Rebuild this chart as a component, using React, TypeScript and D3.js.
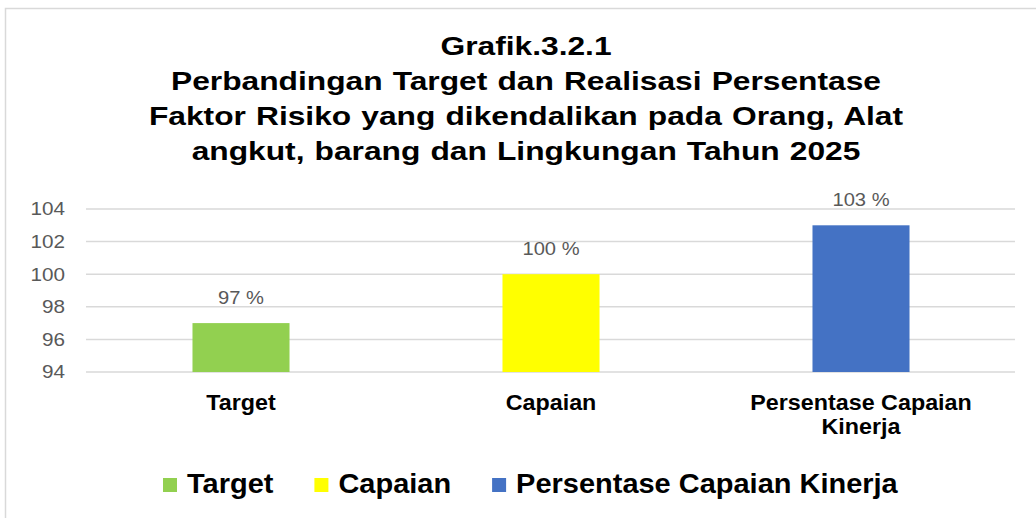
import React, { useEffect, useRef } from 'react'
import * as d3 from 'd3'

const categories = ['Target', 'Capaian', 'Persentase Capaian Kinerja']
const values = [97, 100, 103]
const colors = ['#92D050', '#FFFF00', '#4472C4']
const yTicks = [94, 96, 98, 100, 102, 104]
const titleLines = [
  'Grafik.3.2.1',
  'Perbandingan Target dan Realisasi Persentase',
  'Faktor Risiko yang dikendalikan pada Orang, Alat',
  'angkut, barang dan Lingkungan Tahun 2025',
]
// category axis labels, wrapped like the original
const categoryLines = [['Target'], ['Capaian'], ['Persentase Capaian', 'Kinerja']]

const W = 1036
const H = 518
const FONT = "'Liberation Sans', Arial, sans-serif"

export default function App() {
  const ref = useRef<SVGSVGElement | null>(null)

  useEffect(() => {
    const svg = d3.select(ref.current)
    svg.selectAll('*').remove()

    // chart area frame
    svg
      .append('rect')
      .attr('x', 5.5)
      .attr('y', 8.5)
      .attr('width', 1100)
      .attr('height', 600)
      .attr('fill', '#fff')
      .attr('stroke', '#d9d9d9')
      .attr('stroke-width', 1.5)

    // title (the original is a bit stretched horizontally)
    const title = svg
      .append('g')
      .attr('font-family', FONT)
      .attr('font-weight', 'bold')
      .attr('font-size', 25)
      .attr('fill', '#000')
    titleLines.forEach((t, i) => {
      title
        .append('g')
        .attr('transform', `translate(526,${55 + i * 35}) scale(1.27,1)`)
        .append('text')
        .attr('text-anchor', 'middle')
        .attr('word-spacing', 1)
        .text(t)
    })

    const x = d3
      .scaleBand<string>()
      .domain(categories)
      .range([86, 1016])
      .paddingInner(0.687)
      .paddingOuter(0.3435)
    const y = d3.scaleLinear().domain([94, 104]).range([372, 209])

    // gridlines
    svg
      .append('g')
      .selectAll('line')
      .data(yTicks)
      .join('line')
      .attr('x1', 86)
      .attr('x2', 1015)
      .attr('y1', (d) => y(d))
      .attr('y2', (d) => y(d))
      .attr('stroke', '#d9d9d9')
      .attr('stroke-width', 1.5)

    // y tick labels
    svg
      .append('g')
      .selectAll('g')
      .data(yTicks)
      .join('g')
      .attr('transform', (d) => `translate(65,${y(d)}) scale(1.15,1)`)
      .append('text')
      .attr('text-anchor', 'end')
      .attr('dy', '0.36em')
      .attr('font-family', FONT)
      .attr('font-size', 18)
      .attr('fill', '#595959')
      .text((d) => d)

    // bars
    svg
      .append('g')
      .selectAll('rect')
      .data(values)
      .join('rect')
      .attr('x', (d, i) => x(categories[i])!)
      .attr('width', x.bandwidth())
      .attr('y', (d) => y(d))
      .attr('height', (d) => y(94) - y(d))
      .attr('fill', (d, i) => colors[i])

    // value labels
    svg
      .append('g')
      .selectAll('g')
      .data(values)
      .join('g')
      .attr(
        'transform',
        (d, i) => `translate(${x(categories[i])! + x.bandwidth() / 2},${y(d) - 19}) scale(1.12,1)`
      )
      .append('text')
      .attr('text-anchor', 'middle')
      .attr('font-family', FONT)
      .attr('font-size', 18)
      .attr('fill', '#595959')
      .text((d) => `${d} %`)

    // category labels
    const cat = svg
      .append('g')
      .selectAll('text')
      .data(categoryLines)
      .join('text')
      .attr('text-anchor', 'middle')
      .attr('font-family', FONT)
      .attr('font-weight', 'bold')
      .attr('font-size', 22)
      .attr('fill', '#000')
      .attr('transform', (d, i) => `translate(${x(categories[i])! + x.bandwidth() / 2},410) scale(1.06,1)`)
    cat
      .selectAll('tspan')
      .data((d) => d)
      .join('tspan')
      .attr('x', 0)
      .attr('y', (d, j) => j * 24)
      .text((d) => d)

    // legend
    const legend = svg.append('g').attr('transform', 'translate(163,493)')
    let offset = 0
    categories.forEach((c, i) => {
      const item = legend.append('g').attr('transform', `translate(${offset},0)`)
      item
        .append('rect')
        .attr('x', 0)
        .attr('y', -15)
        .attr('width', 14)
        .attr('height', 14)
        .attr('fill', colors[i])
      const t = item
        .append('text')
        .attr('transform', 'translate(24,0) scale(1.035,1)')
        .attr('font-family', FONT)
        .attr('font-weight', 'bold')
        .attr('font-size', 28)
        .attr('fill', '#000')
        .text(c)
      const w = (t.node() as SVGTextElement).getComputedTextLength() * 1.035
      offset += 24 + w + 41
    })
  }, [])

  return (
    <svg
      ref={ref}
      width={W}
      height={H}
      style={{ position: 'absolute', left: 0, top: 0, background: '#fff' }}
    />
  )
}
